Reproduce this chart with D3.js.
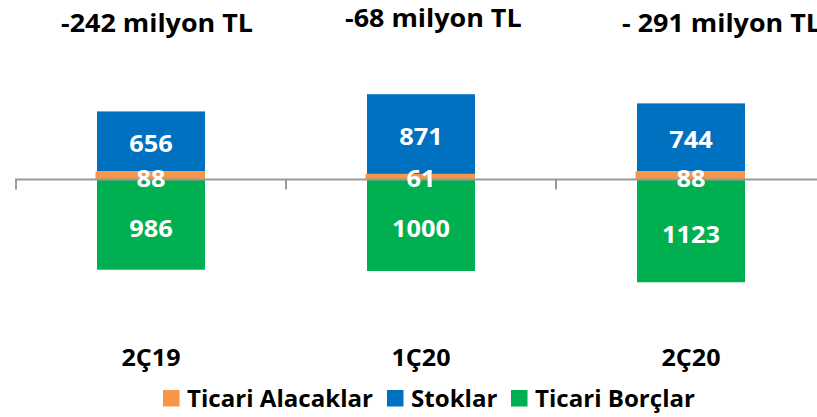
<!DOCTYPE html>
<html>
<head>
<meta charset="utf-8">
<script src="https://cdn.jsdelivr.net/npm/d3@7"></script>
<style>
  html, body { margin: 0; padding: 0; background: #fff; }
  svg { display: block; }
  text { font-family: "Open Sans", Lato, sans-serif; font-weight: bold; }
</style>
</head>
<body>
<svg id="chart" width="817" height="417"></svg>
<script>
// ---- data ----
const categories = ["2Ç19", "1Ç20", "2Ç20"];
const ticariAlacaklar = [88, 61, 88];
const stoklar = [656, 871, 744];
const ticariBorclar = [986, 1000, 1123];
const totals = ["-242 milyon TL", "-68 milyon TL", "- 291 milyon TL"];
const seriesNames = ["Ticari Alacaklar", "Stoklar", "Ticari Borçlar"];
const seriesColors = ["#F79646", "#0070C0", "#00B050"];

const svg = d3.select("#chart");

const x = d3.scaleBand().domain(categories).range([16, 826]).padding(0);
const y = d3.scaleLinear().domain([-1500, 1000]).range([316.75, 88]);
const bw = x.bandwidth();
const barX = c => x(c) + bw * 0.3;
const barW = bw * 0.4;

const rows = categories.map((c, i) => ({
  c, a: ticariAlacaklar[i], s: stoklar[i], b: ticariBorclar[i], t: totals[i]
}));

// horizontally condense a group of texts so a reference text gets the target width
function fitGroup(sel, refIndex, targetWidth) {
  const nodes = sel.nodes();
  const nat = nodes.map(n => n.getComputedTextLength());
  const f = targetWidth / nat[refIndex];
  nodes.forEach((n, i) => {
    n.setAttribute("textLength", nat[i] * f);
    n.setAttribute("lengthAdjust", "spacingAndGlyphs");
  });
}

// green (negative)
svg.selectAll("rect.borc").data(rows).join("rect").attr("class", "borc")
  .attr("x", d => barX(d.c)).attr("width", barW)
  .attr("y", y(0)).attr("height", d => y(-d.b) - y(0))
  .attr("fill", seriesColors[2]);

// blue (stacked above orange)
svg.selectAll("rect.stok").data(rows).join("rect").attr("class", "stok")
  .attr("x", d => barX(d.c)).attr("width", barW)
  .attr("y", d => y(d.a + d.s)).attr("height", d => y(d.a) - y(d.a + d.s))
  .attr("fill", seriesColors[1]);

// orange
svg.selectAll("rect.alacak").data(rows).join("rect").attr("class", "alacak")
  .attr("x", d => barX(d.c) - 1.5).attr("width", barW + 1.5)
  .attr("y", d => y(d.a)).attr("height", d => y(0) - y(d.a))
  .attr("fill", seriesColors[0]);

// axis
const axisG = svg.append("g").attr("transform", `translate(0,${y(0)})`);
const ticks = [16].concat(categories.map(c => x(c) + bw));
axisG.append("line").attr("x1", 15).attr("x2", 817).attr("y1", 0).attr("y2", 0)
  .attr("stroke", "#9a9a9a").attr("stroke-width", 2);
axisG.selectAll("line.tick").data(ticks).join("line").attr("class", "tick")
  .attr("x1", d => d).attr("x2", d => d).attr("y1", 0).attr("y2", 10)
  .attr("stroke", "#9a9a9a").attr("stroke-width", 2);

// value labels
const vals = [];
rows.forEach(d => {
  vals.push({c: d.c, v: d.s, y: (y(d.a + d.s) + y(d.a)) / 2 + 11});
  vals.push({c: d.c, v: d.a, y: y(0) + 7.5});
  vals.push({c: d.c, v: d.b, y: (y(0) + y(-d.b)) / 2 + 12});
});
const valT = svg.selectAll("text.val").data(vals).join("text").attr("class", "val")
  .attr("x", d => x(d.c) + bw / 2).attr("y", d => d.y)
  .attr("text-anchor", "middle").attr("fill", "#fff")
  .attr("font-size", 24).text(d => d.v);
fitGroup(valT, 5, 58);

// totals at top
const titlePos = [{x: 61, y: 32}, {x: 345, y: 27}, {x: 622, y: 32}];
const titleT = svg.selectAll("text.total").data(rows).join("text").attr("class", "total")
  .attr("x", (d, i) => titlePos[i].x).attr("y", (d, i) => titlePos[i].y)
  .attr("font-size", 25).attr("fill", "#000").text(d => d.t);
fitGroup(titleT, 0, 192);

// category labels
const catT = svg.selectAll("text.cat").data(categories).join("text").attr("class", "cat")
  .attr("x", c => x(c) + bw / 2).attr("y", 366)
  .attr("text-anchor", "middle").attr("font-size", 24).attr("fill", "#000")
  .text(c => c);
fitGroup(catT, 0, 59);

// legend
const legX = [163, 387, 511];
const lg = svg.selectAll("g.leg").data(seriesNames).join("g").attr("class", "leg")
  .attr("transform", (d, i) => `translate(${legX[i]},390)`);
lg.append("rect").attr("width", 16.5).attr("height", 16.5)
  .attr("fill", (d, i) => seriesColors[i]);
const legT = lg.append("text").attr("x", 24).attr("y", 16.5).attr("font-size", 22.5)
  .attr("fill", "#000").text(d => d);
fitGroup(legT, 0, 186);
</script>
</body>
</html>
